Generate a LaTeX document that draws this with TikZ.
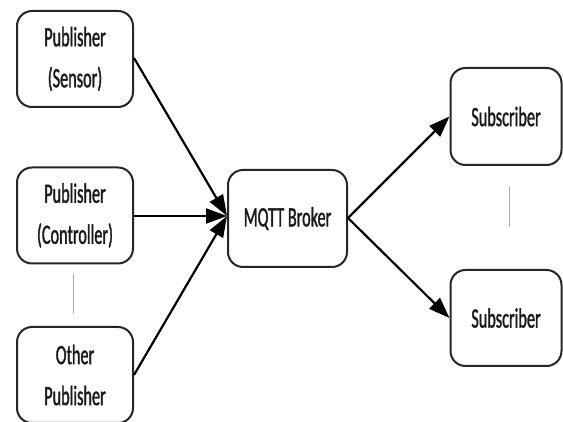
\documentclass[tikz,border=0pt]{standalone}
\usepackage{fontspec}
% condensed Calibri-like face for the box labels
\newfontfamily\boxfont[FakeStretch=0.58,FakeBold=1.2]{Carlito}
\usetikzlibrary{arrows.meta}
\definecolor{boxline}{HTML}{262626}
\definecolor{textcol}{HTML}{1A1A1A}
\definecolor{gapline}{HTML}{A8A8A8}
\begin{document}
\begin{tikzpicture}[x=1pt,y=-1pt,
  box/.style={draw=boxline, line width=2pt, rounded corners=15pt, fill=white,
    inner sep=0pt, align=center, text=textcol,
    font=\boxfont\fontsize{28}{41}\selectfont,
    minimum width=116pt, minimum height=96pt},
  link/.style={draw=black, line width=2.2pt, -{Triangle[length=21pt,width=15pt]}},
  gap/.style={draw=gapline, line width=0.8pt}]
\useasboundingbox (0,0) rectangle (563,422);

% publishers
\node[box] (sensor) at (75,59) {Publisher\\(Sensor)};
\node[box] (ctrl) at (75,215.5) {Publisher\\(Controller)};
\node[box] (other) at (75,375) {Other\\Publisher};

% broker
\node[box, minimum width=119pt, minimum height=97pt] (broker) at (287.5,218.5) {MQTT Broker};

% subscribers
\node[box, minimum width=111pt, minimum height=97pt] (sub1) at (506,116.5) {Subscriber};
\node[box, minimum width=111pt, minimum height=96pt] (sub2) at (506,318) {Subscriber};

% anchor points on the box sides
\coordinate (bin) at (broker.west |- 0,216);
\coordinate (bout) at (broker.east |- 0,218);
\coordinate (sensorout) at (sensor.east |- 0,58);
\coordinate (otherout) at (other.east |- 0,375);

% publisher -> broker
\draw[link] (sensorout) -- (bin);
\draw[link] (ctrl.east |- bin) -- (bin);
\draw[link] (otherout) -- (bin);

% broker -> subscribers
\draw[link] (bout) -- (sub1.west);
\draw[link] (bout) -- (sub2.west);

% thin separators between repeated boxes
\coordinate (g1a) at (73,274);
\coordinate (g1b) at (73,313);
\coordinate (g2a) at (509,187);
\coordinate (g2b) at (509,227);
\draw[gap] (g1a) -- (g1b);
\draw[gap] (g2a) -- (g2b);
\end{tikzpicture}
\end{document}
